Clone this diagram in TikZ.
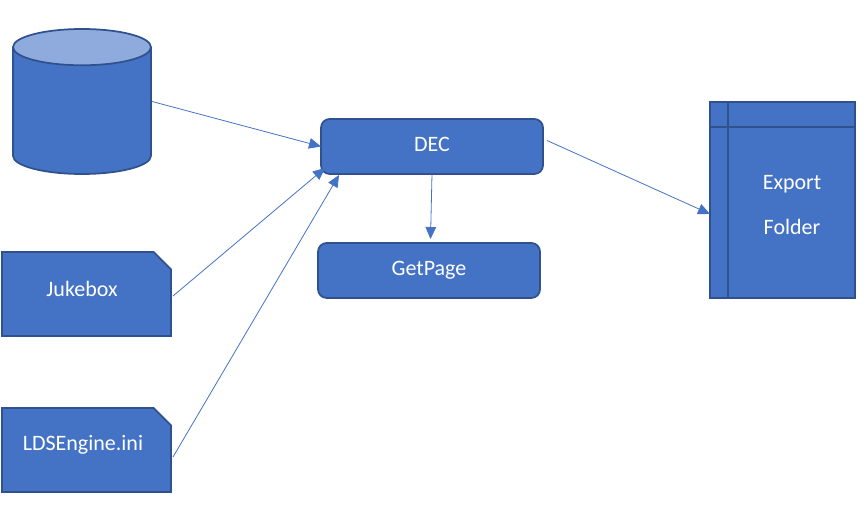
\documentclass[tikz,border=0pt]{standalone}
\usepackage{fontspec}
\setmainfont{Carlito}
\usetikzlibrary{shapes.geometric,shapes.misc,positioning,arrows.meta,calc}
\definecolor{boxfill}{HTML}{4472C4}
\definecolor{boxline}{HTML}{2F528F}
\definecolor{capfill}{HTML}{8FAADC}

\begin{document}
\begin{tikzpicture}[
    x=0.75pt, y=-0.75pt,
    box/.style={draw=boxline, fill=boxfill, line width=1.3pt, outer sep=0pt, inner sep=4pt, align=center, font=\fontsize{16.5}{20}\selectfont, text=white},
    step box/.style={box, rectangle, rounded corners=6.5pt, minimum width=166.5pt, minimum height=41.25pt, text height=10.3pt, text depth=3.5pt},
    note box/.style={box, shape=chamfered rectangle, inner sep=6.5pt, chamfered rectangle corners=north east, chamfered rectangle xsep=10pt, chamfered rectangle ysep=10pt, minimum width=126.75pt, minimum height=63pt},
    txt/.style={font=\fontsize{16.5}{20}\selectfont, text=white, inner sep=0pt, align=center},
    arrow/.style={-{Triangle[length=9pt, width=8pt]}, draw=boxfill, line width=0.6pt},
]
\useasboundingbox (0,0) rectangle (868,523);

% Database
\node[box, fill=none, shape=cylinder, shape border rotate=90, aspect=3.4, cylinder uses custom fill, cylinder body fill=boxfill, cylinder end fill=capfill, minimum width=103.5pt, minimum height=108.75pt, anchor=shape center] (db) at (82,101.5) {};

% Config files
\node[note box] (jukebox) at (86.5,294) {};
\node[note box, below=54pt of jukebox] (ldsengine) {};
\node[txt] (jukeboxtxt) at ($(jukebox.center)+(-4.5,-5)$) {Jukebox};
\node[txt] (ldsenginetxt) at ($(ldsengine.center)+(-3.5,-5)$) {LDSEngine.ini};

% Main steps
\node[step box] (dec) at (432,146.5) {DEC};
\node[step box, below=51.75pt of dec, xshift=-2.25pt] (getpage) {GetPage};

% Export folder
\node[box, rectangle, minimum width=108.75pt, minimum height=147pt] (export) at (782.5,200) {};
\draw[boxline, line width=1.3pt] ($(export.north west)+(18,0)$) -- ($(export.south west)+(18,0)$);
\draw[boxline, line width=1.3pt] ($(export.north west)+(0,25)$) -- ($(export.north east)+(0,25)$);
\node[txt, font=\fontsize{16.5}{33.75}\selectfont] (exporttxt) at ($(export.center)+(9.5,5.5)$) {Export\\Folder};

% Connectors
\draw[arrow] ($(db.east)+(1,-13)$) -- (dec.west);
\draw[arrow] ($(jukebox.east)+(2,2)$) -- ($(dec.south west)+(4,-6)$);
\draw[arrow] ($(ldsengine.east)+(2,7)$) -- ($(dec.south west)+(18,1)$);
\draw[arrow] (dec.south) -- ($(getpage.north)+(1.5,-4)$);
\draw[arrow] ($(dec.east)+(4,-6)$) -- ($(export.west)+(0,14)$);

\end{tikzpicture}
\end{document}
